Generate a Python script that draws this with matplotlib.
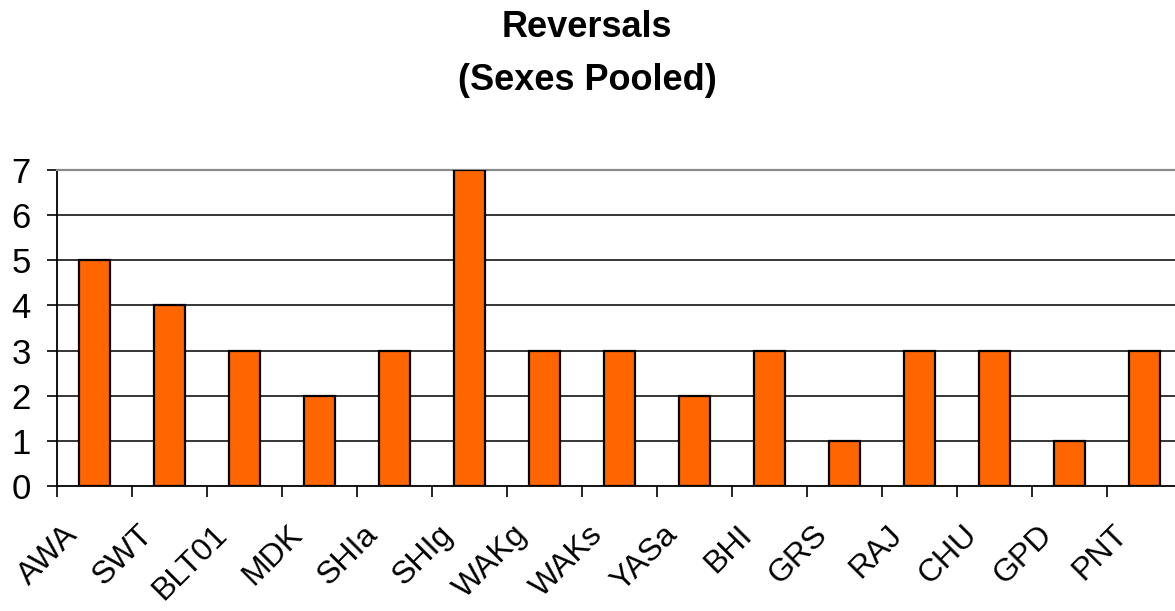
import matplotlib
matplotlib.use("Agg")
import matplotlib.pyplot as plt
from matplotlib.transforms import ScaledTranslation
import numpy as np

sites = ["AWA", "SWT", "BLT01", "MDK", "SHIa", "SHIg", "WAKg", "WAKs",
         "YASa", "BHI", "GRS", "RAJ", "CHU", "GPD", "PNT"]
reversals = [5, 4, 3, 2, 3, 7, 3, 3, 2, 3, 1, 3, 3, 1, 3]
y_ticks = [0, 1, 2, 3, 4, 5, 6, 7]

plt.rcParams["font.family"] = ["Liberation Sans", "DejaVu Sans"]

fig = plt.figure(figsize=(11.75, 6.11), dpi=100)
ax = fig.add_axes([57 / 1175, 1 - 486 / 611, 1125 / 1175, 316 / 611])

x = np.arange(len(sites))
ax.bar(x, reversals, width=0.42, color="#FF6600", edgecolor="black",
       linewidth=1.6, zorder=3)

ax.set_xlim(-0.5, len(sites) - 0.5)
ax.set_ylim(0, 7)

# horizontal gridlines
for v in y_ticks[1:-1]:
    ax.axhline(v, color="black", linewidth=1.1, zorder=1)

ax.spines["top"].set_color("#8a8a8a")
ax.spines["top"].set_linewidth(1.6)
ax.spines["right"].set_visible(False)
ax.spines["left"].set_color("black")
ax.spines["left"].set_linewidth(1.3)
ax.spines["bottom"].set_color("black")
ax.spines["bottom"].set_linewidth(1.3)

ax.set_yticks(y_ticks)
ax.set_yticklabels([str(v) for v in y_ticks], fontsize=25)
ax.tick_params(axis="y", direction="out", length=7, width=1.2, pad=12)

# category labels at bar centres, tick marks between categories
ax.set_xticks(x)
ax.set_xticklabels(sites, rotation=45, ha="right", va="baseline",
                   rotation_mode="anchor", fontsize=23)
ax.tick_params(axis="x", which="major", length=0, pad=36)
shift = ScaledTranslation(-16 / 100, 0, fig.dpi_scale_trans)
for lbl in ax.get_xticklabels():
    lbl.set_transform(lbl.get_transform() + shift)
ax.set_xticks(np.arange(len(sites) + 1) - 0.5, minor=True)
ax.tick_params(axis="x", which="minor", direction="out", length=8, width=1.2)

fig.text(587 / 1175, 1 - 37 / 611, "Reversals", ha="center", va="baseline",
         fontsize=26, fontweight="bold")
fig.text(587 / 1175, 1 - 90 / 611, "(Sexes Pooled)", ha="center",
         va="baseline", fontsize=26, fontweight="bold")

fig.savefig("out.png", dpi=100)
